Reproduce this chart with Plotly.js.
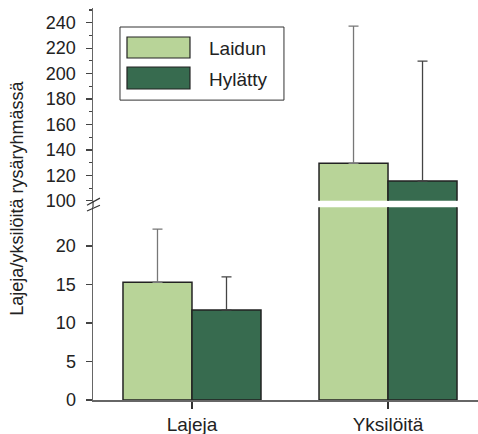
<!DOCTYPE html>
<html>
<head>
<meta charset="utf-8">
<script src="https://cdn.plot.ly/plotly-3.0.1.min.js"></script>
<style>html,body{margin:0;padding:0;background:#fff;}#chart{width:478px;height:434px;}</style>
</head>
<body>
<div id="chart"></div>
<script>
// ---- data ----
var categories = ['Lajeja', 'Yksilöitä'];
var seriesNames = ['Laidun', 'Hylätty'];
var laidunValues = [15.3, 129.5];
var hylattyValues = [11.7, 115.6];
var laidunErrUp = [6.9, 107.7];
var hylattyErrUp = [4.3, 94.2];
var lowerTicks = [0, 5, 10, 15, 20];
var upperTicks = [100, 120, 140, 160, 180, 200, 220, 240];
var yTitle = 'Lajeja/yksilöitä rysäryhmässä';

var colors = ['#b8d498', '#376b4f'];
var errColors = ['#777777', '#444444'];
var FONT = '"Liberation Sans", Arial, sans-serif';

function barTrace(name, vals, errs, ci, yaxis) {
  return {
    type: 'bar', x: categories, y: vals, name: name, yaxis: yaxis, xaxis: 'x',
    marker: {color: colors[ci], line: {color: '#222', width: 1.5}},
    error_y: {type: 'data', symmetric: false, array: errs, arrayminus: [0, 0],
              color: errColors[ci], thickness: 1.3, width: 5},
    showlegend: false, hoverinfo: 'skip'
  };
}

var data = [
  barTrace(seriesNames[0], laidunValues, laidunErrUp, 0, 'y'),
  barTrace(seriesNames[1], hylattyValues, hylattyErrUp, 1, 'y'),
  barTrace(seriesNames[0], laidunValues, laidunErrUp, 0, 'y2'),
  barTrace(seriesNames[1], hylattyValues, hylattyErrUp, 1, 'y2')
];

var axisCol = '#666';
var tickFont = {family: FONT, size: 18, color: '#222'};

// legend geometry (paper coordinates)
var legendShapes = [
  {type: 'rect', xref: 'paper', yref: 'paper', x0: 0.0701, x1: 0.496, y0: 0.765, y1: 0.9515,
   line: {color: '#333', width: 1}, fillcolor: 'rgba(0,0,0,0)'},
  {type: 'rect', xref: 'paper', yref: 'paper', x0: 0.0883, x1: 0.2519, y0: 0.8724, y1: 0.926,
   line: {color: '#222', width: 1.2}, fillcolor: colors[0]},
  {type: 'rect', xref: 'paper', yref: 'paper', x0: 0.0883, x1: 0.2519, y0: 0.7934, y1: 0.8495,
   line: {color: '#222', width: 1.2}, fillcolor: colors[1]}
];
// axis break marks
var breakShapes = [
  {type: 'line', xref: 'paper', yref: 'paper', x0: 0, x1: 0, y0: 0.492, y1: 0.508, line: {color: axisCol, width: 1.5}},
  {type: 'line', xref: 'paper', yref: 'paper', x0: -0.0156, x1: 0.018, y0: 0.497, y1: 0.515, line: {color: '#333', width: 1.2}},
  {type: 'line', xref: 'paper', yref: 'paper', x0: -0.0156, x1: 0.018, y0: 0.482, y1: 0.497, line: {color: '#333', width: 1.2}}
];

var layout = {
  width: 478, height: 434,
  margin: {l: 93, r: 0, t: 8, b: 34},
  paper_bgcolor: '#fff', plot_bgcolor: '#fff',
  font: {family: FONT, color: '#222'},
  barmode: 'group', bargap: 0.296, bargroupgap: 0,
  showlegend: false,
  xaxis: {
    type: 'category', range: [-0.505, 1.459], anchor: 'y',
    showline: true, linecolor: axisCol, linewidth: 1.5,
    ticks: 'outside', ticklen: 7, tickcolor: '#333', tickwidth: 1.2,
    tickfont: {family: FONT, size: 19, color: '#222'},
    showgrid: false, zeroline: false, fixedrange: true
  },
  yaxis: {
    domain: [0, 0.492], range: [0, 25.06], anchor: 'x',
    tickmode: 'array', tickvals: lowerTicks,
    showline: true, linecolor: axisCol, linewidth: 1.5,
    ticks: 'outside', ticklen: 6, tickcolor: '#444', tickwidth: 1.2,
    tickfont: tickFont, ticklabelstandoff: 6,
    showgrid: false, zeroline: false, fixedrange: true
  },
  yaxis2: {
    domain: [0.508, 1], range: [100, 251.5], anchor: 'x',
    tickmode: 'array', tickvals: upperTicks,
    showline: true, linecolor: axisCol, linewidth: 1.5,
    ticks: 'outside', ticklen: 6, tickcolor: '#444', tickwidth: 1.2,
    minor: {dtick: 10, ticks: 'outside', ticklen: 3, tickcolor: '#444', tickwidth: 1.2},
    tickfont: tickFont, ticklabelstandoff: 6,
    showgrid: false, zeroline: false, fixedrange: true
  },
  shapes: legendShapes.concat(breakShapes),
  annotations: [
    {xref: 'paper', yref: 'paper', x: 0.296, y: 0.897, xanchor: 'left', yanchor: 'middle',
     text: seriesNames[0], showarrow: false, font: {family: FONT, size: 19, color: '#222'}},
    {xref: 'paper', yref: 'paper', x: 0.296, y: 0.818, xanchor: 'left', yanchor: 'middle',
     text: seriesNames[1], showarrow: false, font: {family: FONT, size: 19, color: '#222'}},
    {xref: 'paper', yref: 'paper', x: -0.196, y: 0.515, xanchor: 'center', yanchor: 'middle',
     textangle: -90, text: yTitle, showarrow: false, font: {family: FONT, size: 18, color: '#222'}}
  ]
};

Plotly.newPlot('chart', data, layout, {displayModeBar: false, staticPlot: true});
</script>
</body>
</html>
